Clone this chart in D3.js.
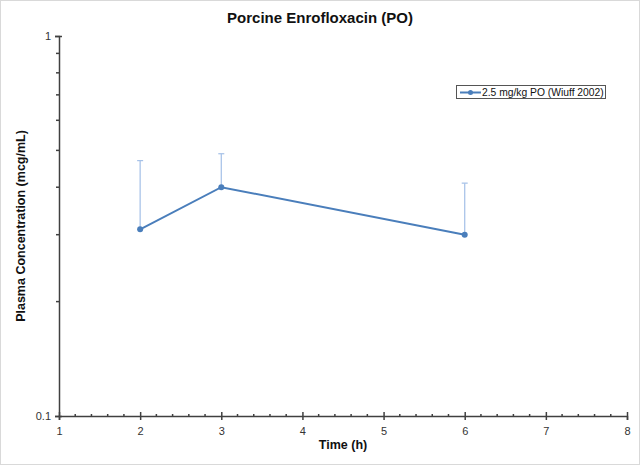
<!DOCTYPE html>
<html>
<head>
<meta charset="utf-8">
<script src="https://cdn.jsdelivr.net/npm/d3@7"></script>
<style>
  body { margin: 0; background: #fff; }
  svg { display: block; font-family: "Liberation Sans", Arial, sans-serif; }
</style>
</head>
<body>
<svg id="chart" width="640" height="465"></svg>
<script>
const times = [2, 3, 6];
const conc = [0.31, 0.40, 0.30];
const errUpper = [0.47, 0.49, 0.41];
const seriesName = "2.5 mg/kg PO (Wiuff 2002)";
const xTicks = [1, 2, 3, 4, 5, 6, 7, 8];
const yTicks = [0.1, 1];
const yMinorTicks = [0.2, 0.3, 0.4, 0.5, 0.6, 0.7, 0.8, 0.9];

const svg = d3.select("#chart");
const W = 640, H = 465;
const mLeft = 59, mRight = 627, mTop = 36, mBottom = 416;

svg.append("rect").attr("x", 0.5).attr("y", 0.5).attr("width", W - 1).attr("height", H - 1)
  .attr("fill", "#fff").attr("stroke", "#d9d9d9");

const x = d3.scaleLinear().domain([1, 8]).range([mLeft, mRight]);
const y = d3.scaleLog().domain([0.1, 1]).range([mBottom, mTop]);

const axisColor = "#404040";
const lineColor = "#4a7ebb";
const errColor = "#a7c2e8";

// title
svg.append("text").attr("x", 320).attr("y", 23).attr("text-anchor", "middle")
  .attr("font-size", 15).attr("font-weight", "bold").attr("fill", "#111")
  .text("Porcine Enrofloxacin (PO)");

// y axis
const yAxis = d3.axisLeft(y).tickValues(yTicks).tickFormat(d3.format("")).tickSize(4).tickPadding(4);
const gy = svg.append("g").attr("transform", `translate(${mLeft},0)`).call(yAxis);
gy.select(".domain").attr("stroke", axisColor).attr("stroke-width", 1.5);
gy.selectAll(".tick line").attr("stroke", axisColor).attr("stroke-width", 1.5).attr("x2", -4).attr("x1", 3);
gy.selectAll(".tick text").attr("font-size", 11).attr("fill", "#333").attr("font-family", "Liberation Sans, Arial, sans-serif");
svg.append("g").selectAll("line").data(yMinorTicks).join("line")
  .attr("x1", mLeft - 3).attr("x2", mLeft).attr("y1", d => y(d)).attr("y2", d => y(d))
  .attr("stroke", axisColor).attr("stroke-width", 1.5);

// x axis
const xAxis = d3.axisBottom(x).tickValues(xTicks).tickFormat(d3.format("d")).tickSize(4).tickPadding(7);
const gx = svg.append("g").attr("transform", `translate(0,${mBottom})`).call(xAxis);
gx.select(".domain").attr("stroke", axisColor).attr("stroke-width", 1.5);
gx.selectAll(".tick line").attr("stroke", axisColor).attr("stroke-width", 1.5).attr("y1", -4).attr("y2", 4);
gx.selectAll(".tick text").attr("font-size", 11).attr("fill", "#333").attr("font-family", "Liberation Sans, Arial, sans-serif");
const xMinor = d3.range(1, 8.001, 0.2).filter(v => Math.abs(v - Math.round(v)) > 0.01);
svg.append("g").selectAll("line").data(xMinor).join("line")
  .attr("x1", d => x(d)).attr("x2", d => x(d)).attr("y1", mBottom - 2).attr("y2", mBottom + 1)
  .attr("stroke", axisColor).attr("stroke-width", 1.5);

// axis titles
svg.append("text").attr("x", (mLeft + mRight) / 2).attr("y", 449).attr("text-anchor", "middle")
  .attr("font-size", 12.5).attr("font-weight", "bold").attr("fill", "#111").text("Time (h)");
svg.append("text").attr("transform", `translate(25,${(mTop + mBottom) / 2}) rotate(-90)`)
  .attr("text-anchor", "middle").attr("font-size", 12.5).attr("font-weight", "bold").attr("fill", "#111")
  .text("Plasma Concentration (mcg/mL)");

// error bars
const data = times.map((t, i) => ({ t, c: conc[i], e: errUpper[i] }));
const eb = svg.append("g");
eb.selectAll("line.v").data(data).join("line").attr("class", "v")
  .attr("x1", d => x(d.t)).attr("x2", d => x(d.t)).attr("y1", d => y(d.c)).attr("y2", d => y(d.e))
  .attr("stroke", errColor).attr("stroke-width", 1.25);
eb.selectAll("line.c").data(data).join("line").attr("class", "c")
  .attr("x1", d => x(d.t) - 3).attr("x2", d => x(d.t) + 3).attr("y1", d => y(d.e)).attr("y2", d => y(d.e))
  .attr("stroke", errColor).attr("stroke-width", 1.25);

// line
svg.append("path").datum(data)
  .attr("d", d3.line().x(d => x(d.t)).y(d => y(d.c)))
  .attr("fill", "none").attr("stroke", lineColor).attr("stroke-width", 2);
svg.append("g").selectAll("circle").data(data).join("circle")
  .attr("cx", d => x(d.t)).attr("cy", d => y(d.c)).attr("r", 3).attr("fill", lineColor);

// legend
const lg = svg.append("g");
lg.append("rect").attr("x", 456.5).attr("y", 85.5).attr("width", 149).attr("height", 13)
  .attr("fill", "#fff").attr("stroke", "#555").attr("stroke-width", 1);
lg.append("line").attr("x1", 460).attr("x2", 481).attr("y1", 92.5).attr("y2", 92.5)
  .attr("stroke", lineColor).attr("stroke-width", 2);
lg.append("circle").attr("cx", 470.5).attr("cy", 92.5).attr("r", 2.5).attr("fill", lineColor);
lg.append("text").attr("x", 482).attr("y", 96.3).attr("font-size", 10.3).attr("fill", "#111").text(seriesName);
</script>
</body>
</html>
